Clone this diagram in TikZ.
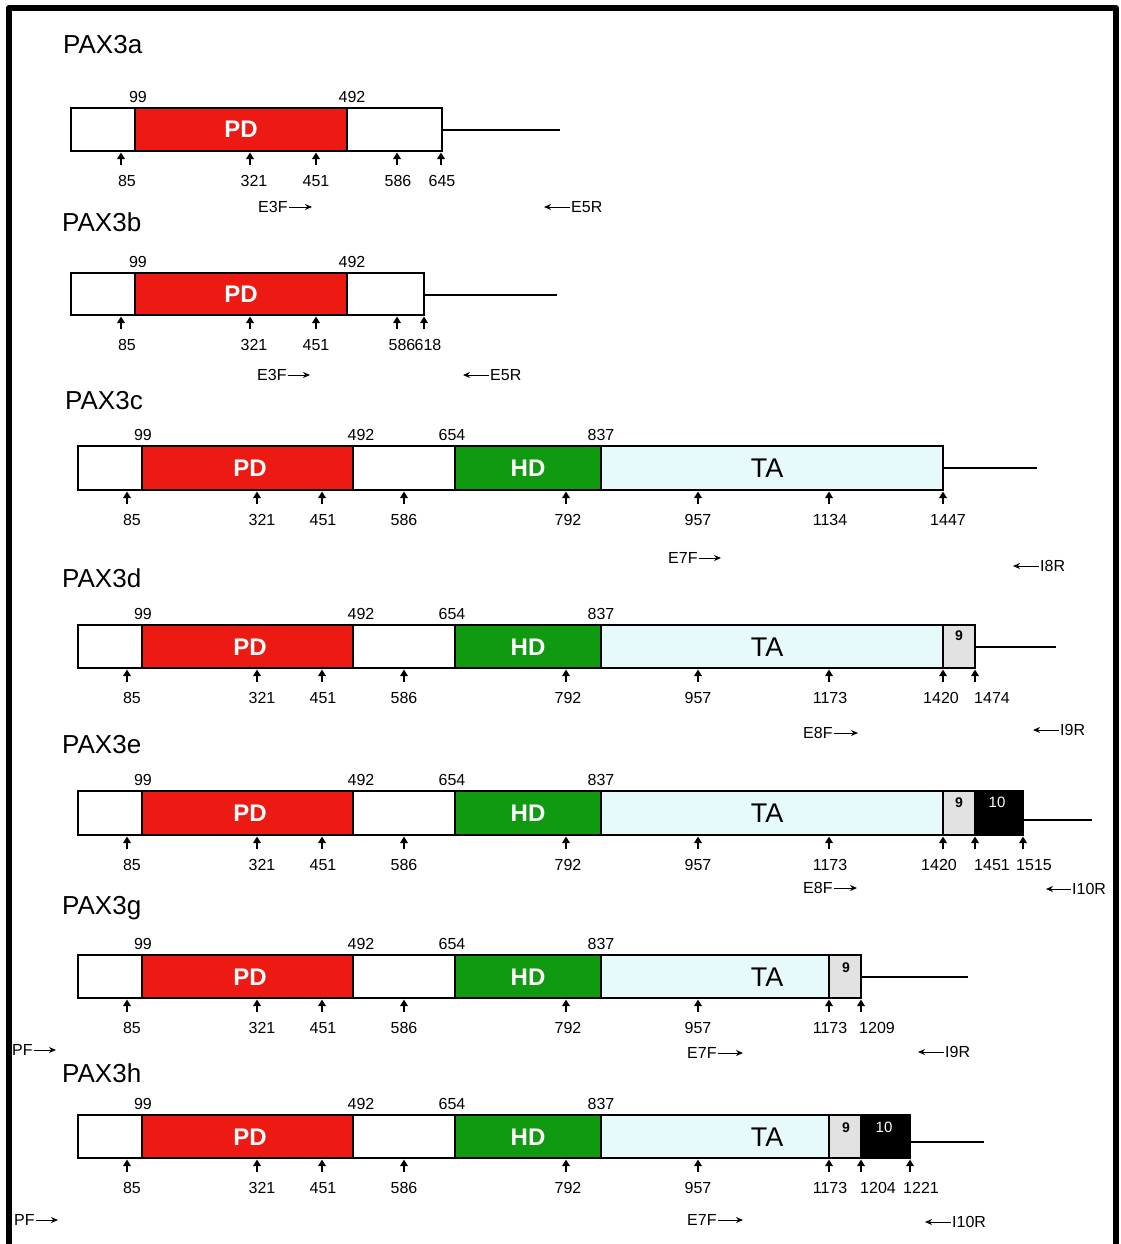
\documentclass[tikz,border=0pt]{standalone}
\usepackage{fontspec}
\setmainfont{Liberation Sans}
\usetikzlibrary{arrows.meta}
\definecolor{pdred}{HTML}{EC1A12}
\definecolor{hdgreen}{HTML}{109A10}
\definecolor{tacyan}{HTML}{E6FAFC}
\definecolor{exgray}{HTML}{E2E2E2}

% one exon block: name, x1, x2, ytop, ybottom, style, label
\newcommand\exon[7]{%
  \node[#6, minimum width={(#3-#2)*1pt}, minimum height={(#5-#4)*1pt}]
    (#1) at ({(#2+#3)/2},{(#4+#5)/2}) {#7};}
% splice-site marker: row, x, ybottom, label, label x
\newcommand\site[5]{%
  \coordinate (#1s#2) at (#2,#3);
  \draw[sitearrow] ([yshift=-14pt]#1s#2) -- ([yshift=-1.5pt]#1s#2);
  \node[num] (#1n#2) at ({#5},{#3+30}) {#4};}
% forward primer: name, text left x, y, text, tip x
\newcommand\fwdprimer[5]{%
  \node[primer, anchor=west] (#1) at (#2,#3) {#4};
  \coordinate (#1tip) at (#5,#3);
  \draw[primarrow] (#1.east) -- (#1tip);}
% reverse primer: name, tip x, y, text, text left x
\newcommand\revprimer[5]{%
  \node[primer, anchor=west] (#1) at (#5,#3) {#4};
  \coordinate (#1tip) at (#2,#3);
  \draw[primarrow] (#1.west) -- (#1tip);}
% coordinate labels above the box: row, x, ytop, text
\newcommand\toplabel[4]{%
  \node[num] (#1t#2) at ({#2},{#3-11}) {#4};}

\begin{document}
\begin{tikzpicture}[x=1pt, y=-1pt,
  box/.style={rectangle, draw=black, line width=1.4pt, inner sep=0pt, outer sep=0pt},
  blank/.style={box, fill=white},
  pd/.style={box, fill=pdred, text=white, font=\bfseries\fontsize{24}{24}\selectfont, text height=17pt, text depth=0pt},
  hd/.style={box, fill=hdgreen, text=white, font=\bfseries\fontsize{24}{24}\selectfont, text height=17pt, text depth=0pt},
  ta/.style={box, fill=tacyan, font=\fontsize{27}{27}\selectfont, text height=19pt, text depth=0pt},
  exnine/.style={box, fill=exgray},
  exten/.style={box, fill=black},
  title/.style={anchor=west, inner sep=0pt, font=\fontsize{26}{26}\selectfont, text height=18.6pt, text depth=0pt},
  num/.style={inner sep=0pt, font=\fontsize{16}{16}\selectfont, text height=11.4pt, text depth=0pt},
  small/.style={inner sep=0pt, font=\bfseries\fontsize{14}{14}\selectfont, text height=10pt, text depth=0pt},
  primer/.style={inner sep=1pt, font=\fontsize{16}{16}\selectfont, text height=11.4pt, text depth=0pt},
  primarrow/.style={line width=1pt, -{Stealth[length=7pt, width=6pt]}},
  sitearrow/.style={line width=1.5pt, -{Triangle[length=6.5pt, width=7.5pt]}},
  tail/.style={line width=1.4pt},
]
\useasboundingbox (0,0) rectangle (1120,1244);
\fill[white] (0,0) rectangle (1120,1244);
% frame
\draw[line width=6pt, line join=round] (9,1250) -- (9,8) -- (1116,8) -- (1116,1250);

% ---------------- PAX3a ----------------
\node[title] (ta) at (63,44) {PAX3a};
\exon{a1}{71}{135}{108}{151}{blank}{}
\exon{a2}{135}{347}{108}{151}{pd}{PD}
\exon{a3}{347}{442}{108}{151}{blank}{}
\coordinate (aend) at (560,130);
\draw[tail] (aend -| a3.east) -- (aend);
\toplabel{a}{138}{108}{99}
\toplabel{a}{352}{108}{492}
\foreach \x/\t/\lx in {121/85/127, 250/321/254, 316/451/316, 397/586/398, 441/645/442}
  {\site{a}{\x}{151}{\t}{\lx}}
\fwdprimer{aE3F}{257}{207}{E3F}{312}
\revprimer{aE5R}{544}{207}{E5R}{570}

% ---------------- PAX3b ----------------
\node[title] (tb) at (62,222) {PAX3b};
\exon{b1}{71}{135}{273}{315}{blank}{}
\exon{b2}{135}{347}{273}{315}{pd}{PD}
\exon{b3}{347}{424}{273}{315}{blank}{}
\coordinate (bend) at (557,295);
\draw[tail] (bend -| b3.east) -- (bend);
\toplabel{b}{138}{273}{99}
\toplabel{b}{352}{273}{492}
\foreach \x/\t/\lx in {121/85/127, 250/321/254, 316/451/316, 397/586/402, 424/618/428}
  {\site{b}{\x}{315}{\t}{\lx}}
\fwdprimer{bE3F}{256}{375}{E3F}{310}
\revprimer{bE5R}{463}{375}{E5R}{489}

% ---------------- PAX3c ----------------
\node[title] (tc) at (65,400) {PAX3c};
\exon{c1}{78}{142}{446}{490}{blank}{}
\exon{c2}{142}{353}{446}{490}{pd}{}
\exon{c3}{353}{455}{446}{490}{blank}{}
\exon{c4}{455}{601}{446}{490}{hd}{HD}
\exon{c5}{601}{943}{446}{490}{ta}{}
\node[pd, draw=none, fill=none] (cPD) at (250,468) {PD};
\node[ta, draw=none, fill=none] (cTA) at (767,468) {TA};
\coordinate (cend) at (1037,468);
\draw[tail] (cend -| c5.east) -- (cend);
\foreach \x/\t in {143/99, 361/492, 452/654, 601/837} {\toplabel{c}{\x}{446}{\t}}
\foreach \x/\t/\lx in {127/85/132, 257/321/262, 322/451/323, 404/586/404, 566/792/568, 698/957/698, 829/1134/830, 943/1447/948}
  {\site{c}{\x}{490}{\t}{\lx}}
\fwdprimer{cE7F}{667}{558}{E7F}{721}
\revprimer{cI8R}{1013}{566}{I8R}{1039}

% ---------------- PAX3d ----------------
\node[title] (td) at (62,578) {PAX3d};
\exon{d1}{78}{142}{625}{668}{blank}{}
\exon{d2}{142}{353}{625}{668}{pd}{}
\exon{d3}{353}{455}{625}{668}{blank}{}
\exon{d4}{455}{601}{625}{668}{hd}{HD}
\exon{d5}{601}{943}{625}{668}{ta}{}
\exon{d6}{943}{975}{625}{668}{exnine}{}
\node[pd, draw=none, fill=none] (dPD) at (250,647) {PD};
\node[ta, draw=none, fill=none] (dTA) at (767,647) {TA};
\node[small] (d9) at (959,635) {9};
\coordinate (dend) at (1056,647);
\draw[tail] (dend -| d6.east) -- (dend);
\foreach \x/\t in {143/99, 361/492, 452/654, 601/837} {\toplabel{d}{\x}{625}{\t}}
\foreach \x/\t/\lx in {127/85/132, 257/321/262, 322/451/323, 404/586/404, 566/792/568, 698/957/698, 829/1173/830, 943/1420/941, 975/1474/992}
  {\site{d}{\x}{668}{\t}{\lx}}
\fwdprimer{dE8F}{802}{733}{E8F}{858}
\revprimer{dI9R}{1033}{730}{I9R}{1059}

% ---------------- PAX3e ----------------
\node[title] (te) at (62,744) {PAX3e};
\exon{e1}{78}{142}{791}{835}{blank}{}
\exon{e2}{142}{353}{791}{835}{pd}{}
\exon{e3}{353}{455}{791}{835}{blank}{}
\exon{e4}{455}{601}{791}{835}{hd}{HD}
\exon{e5}{601}{943}{791}{835}{ta}{}
\exon{e6}{943}{975}{791}{835}{exnine}{}
\exon{e7}{975}{1023}{791}{835}{exten}{}
\node[pd, draw=none, fill=none] (ePD) at (250,813) {PD};
\node[ta, draw=none, fill=none] (eTA) at (767,813) {TA};
\node[small] (e9) at (959,802) {9};
\node[small, text=white, font=\fontsize{15}{15}\selectfont] (e10) at (997,802) {10};
\coordinate (eend) at (1092,820);
\draw[tail] (eend -| e7.east) -- (eend);
\foreach \x/\t in {143/99, 361/492, 452/654, 601/837} {\toplabel{e}{\x}{791}{\t}}
\foreach \x/\t/\lx in {127/85/132, 257/321/262, 322/451/323, 404/586/404, 566/792/568, 698/957/698, 829/1173/830, 943/1420/939, 975/1451/992, 1023/1515/1034}
  {\site{e}{\x}{835}{\t}{\lx}}
\fwdprimer{eE8F}{802}{888}{E8F}{857}
\revprimer{eI10R}{1046}{889}{I10R}{1071}

% ---------------- PAX3g ----------------
\node[title] (tg) at (62,905) {PAX3g};
\exon{g1}{78}{142}{955}{998}{blank}{}
\exon{g2}{142}{353}{955}{998}{pd}{}
\exon{g3}{353}{455}{955}{998}{blank}{}
\exon{g4}{455}{601}{955}{998}{hd}{HD}
\exon{g5}{601}{829}{955}{998}{ta}{}
\exon{g6}{829}{861}{955}{998}{exnine}{}
\node[pd, draw=none, fill=none] (gPD) at (250,977) {PD};
\node[ta, draw=none, fill=none] (gTA) at (767,977) {TA};
\node[small] (g9) at (846,967) {9};
\coordinate (gend) at (968,977);
\draw[tail] (gend -| g6.east) -- (gend);
\foreach \x/\t in {143/99, 361/492, 452/654, 601/837} {\toplabel{g}{\x}{955}{\t}}
\foreach \x/\t/\lx in {127/85/132, 257/321/262, 322/451/323, 404/586/404, 566/792/568, 698/957/698, 829/1173/830, 861/1209/877}
  {\site{g}{\x}{998}{\t}{\lx}}
\fwdprimer{gPF}{11}{1050}{PF}{56}
\fwdprimer{gE7F}{686}{1053}{E7F}{743}
\revprimer{gI9R}{918}{1052}{I9R}{944}

% ---------------- PAX3h ----------------
\node[title] (th) at (62,1073) {PAX3h};
\exon{h1}{78}{142}{1115}{1158}{blank}{}
\exon{h2}{142}{353}{1115}{1158}{pd}{}
\exon{h3}{353}{455}{1115}{1158}{blank}{}
\exon{h4}{455}{601}{1115}{1158}{hd}{HD}
\exon{h5}{601}{829}{1115}{1158}{ta}{}
\exon{h6}{829}{861}{1115}{1158}{exnine}{}
\exon{h7}{861}{910}{1115}{1158}{exten}{}
\node[pd, draw=none, fill=none] (hPD) at (250,1137) {PD};
\node[ta, draw=none, fill=none] (hTA) at (767,1137) {TA};
\node[small] (h9) at (846,1127) {9};
\node[small, text=white, font=\fontsize{15}{15}\selectfont] (h10) at (884,1127) {10};
\coordinate (hend) at (984,1142);
\draw[tail] (hend -| h7.east) -- (hend);
\foreach \x/\t in {143/99, 361/492, 452/654, 601/837} {\toplabel{h}{\x}{1115}{\t}}
\foreach \x/\t/\lx in {127/85/132, 257/321/262, 322/451/323, 404/586/404, 566/792/568, 698/957/698, 829/1173/830, 861/1204/878, 910/1221/921}
  {\site{h}{\x}{1158}{\t}{\lx}}
\fwdprimer{hPF}{13}{1220}{PF}{58}
\fwdprimer{hE7F}{686}{1220}{E7F}{743}
\revprimer{hI10R}{925}{1222}{I10R}{951}
\end{tikzpicture}
\end{document}
